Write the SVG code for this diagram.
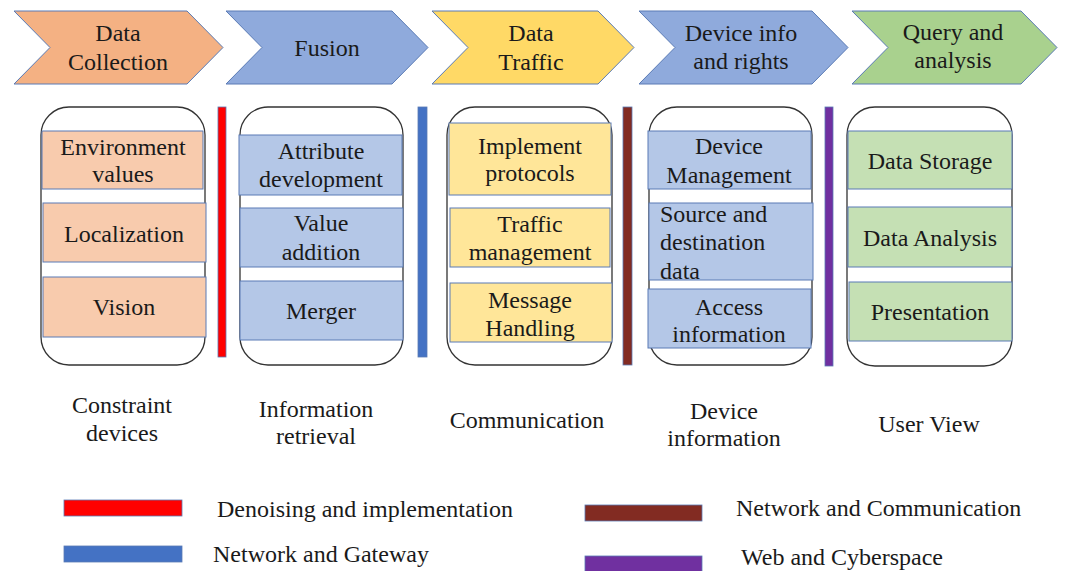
<svg xmlns="http://www.w3.org/2000/svg" width="1065" height="571" viewBox="0 0 1065 571">
  <style>
    text { font-family: "Liberation Serif", "Times New Roman", serif; font-size: 24px; fill: #1a1a1a; }
    .c { text-anchor: middle; }
    .chev { stroke: #5a7bb5; stroke-width: 1; }
    .outer { fill: #ffffff; stroke: #333333; stroke-width: 1.3; }
    .box { stroke: #5a7bb5; stroke-width: 1; }
    .orange { fill: #f4b183; }
    .blue { fill: #8faadc; }
    .yellow { fill: #ffd966; }
    .green { fill: #a9d18e; }
    .lorange { fill: #f8cbad; }
    .lblue { fill: #b4c7e7; }
    .lyellow { fill: #ffe699; }
    .lgreen { fill: #c5e0b4; }
    .bar { stroke: #5a7bb5; stroke-width: 0.8; }
  </style>

  <!-- Stage chevrons -->
  <g id="stage-collection">
    <path class="chev orange" d="M14,11 L187,11 L223,47.5 L187,84 L14,84 L50,47.5 Z"/>
    <text class="c" x="118" y="41">Data</text>
    <text class="c" x="118" y="70">Collection</text>
  </g>
  <g id="stage-fusion">
    <path class="chev blue" d="M226,11 L392,11 L428,47.5 L392,84 L226,84 L262,47.5 Z"/>
    <text class="c" x="327" y="56">Fusion</text>
  </g>
  <g id="stage-traffic">
    <path class="chev yellow" d="M432,11 L598,11 L634,47.5 L598,84 L432,84 L468,47.5 Z"/>
    <text class="c" x="531" y="41">Data</text>
    <text class="c" x="531" y="70">Traffic</text>
  </g>
  <g id="stage-device">
    <path class="chev blue" d="M639,11 L812,11 L848,47.5 L812,84 L639,84 L675,47.5 Z"/>
    <text class="c" x="741" y="41">Device info</text>
    <text class="c" x="741" y="69">and rights</text>
  </g>
  <g id="stage-query">
    <path class="chev green" d="M852,11 L1021,11 L1057,47.5 L1021,84 L852,84 L888,47.5 Z"/>
    <text class="c" x="953" y="40">Query and</text>
    <text class="c" x="953" y="68">analysis</text>
  </g>

  <!-- Column 1: constraint devices -->
  <g id="col-constraint">
    <rect class="outer" x="41" y="107" width="164" height="258" rx="28" ry="28"/>
    <rect class="box lorange" x="42" y="131" width="161" height="58"/>
    <text class="c" x="123" y="155">Environment</text>
    <text class="c" x="123" y="182">values</text>
    <rect class="box lorange" x="43" y="203" width="163" height="59"/>
    <text class="c" x="124" y="242">Localization</text>
    <rect class="box lorange" x="43" y="277" width="163" height="60"/>
    <text class="c" x="124" y="315">Vision</text>
    <text class="c" x="122" y="413">Constraint</text>
    <text class="c" x="122" y="441">devices</text>
  </g>

  <!-- Column 2: information retrieval -->
  <g id="col-retrieval">
    <rect class="outer" x="240" y="107" width="163" height="258" rx="28" ry="28"/>
    <rect class="box lblue" x="239" y="135" width="163" height="60"/>
    <text class="c" x="321" y="159">Attribute</text>
    <text class="c" x="321" y="187">development</text>
    <rect class="box lblue" x="240" y="208" width="163" height="59"/>
    <text class="c" x="321" y="231">Value</text>
    <text class="c" x="321" y="260">addition</text>
    <rect class="box lblue" x="240" y="281" width="163" height="59"/>
    <text class="c" x="321" y="319">Merger</text>
    <text class="c" x="316" y="417">Information</text>
    <text class="c" x="316" y="444">retrieval</text>
  </g>

  <!-- Column 3: communication -->
  <g id="col-communication">
    <rect class="outer" x="447" y="107" width="165" height="258" rx="28" ry="28"/>
    <rect class="box lyellow" x="449" y="123" width="162" height="72"/>
    <text class="c" x="530" y="154">Implement</text>
    <text class="c" x="530" y="181">protocols</text>
    <rect class="box lyellow" x="450" y="208" width="160" height="59"/>
    <text class="c" x="530" y="232">Traffic</text>
    <text class="c" x="530" y="260">management</text>
    <rect class="box lyellow" x="450" y="283" width="162" height="59"/>
    <text class="c" x="530" y="308">Message</text>
    <text class="c" x="530" y="336">Handling</text>
    <text class="c" x="527" y="428">Communication</text>
  </g>

  <!-- Column 4: device information -->
  <g id="col-device">
    <rect class="outer" x="649" y="107" width="163" height="258" rx="28" ry="28"/>
    <rect class="box lblue" x="648" y="131" width="163" height="58"/>
    <text class="c" x="729" y="154">Device</text>
    <text class="c" x="729" y="183">Management</text>
    <rect class="box lblue" x="649" y="203" width="164" height="77"/>
    <text x="660" y="222">Source and</text>
    <text x="660" y="250">destination</text>
    <text x="660" y="279">data</text>
    <rect class="box lblue" x="648" y="289" width="163" height="59"/>
    <text class="c" x="729" y="315">Access</text>
    <text class="c" x="729" y="342">information</text>
    <text class="c" x="724" y="419">Device</text>
    <text class="c" x="724" y="446">information</text>
  </g>

  <!-- Column 5: user view -->
  <g id="col-user">
    <rect class="outer" x="847" y="107" width="165" height="259" rx="28" ry="28"/>
    <rect class="box lgreen" x="848" y="131" width="164" height="58"/>
    <text class="c" x="930" y="169">Data Storage</text>
    <rect class="box lgreen" x="848" y="207" width="164" height="60"/>
    <text class="c" x="930" y="246">Data Analysis</text>
    <rect class="box lgreen" x="849" y="282" width="163" height="59"/>
    <text class="c" x="930" y="320">Presentation</text>
    <text class="c" x="929" y="432">User View</text>
  </g>

  <!-- Layer separators between columns -->
  <g id="separators">
    <rect class="bar" x="218" y="107" width="8" height="250" fill="#ff0000"/>
    <rect class="bar" x="418" y="107" width="9" height="250" fill="#4472c4"/>
    <rect class="bar" x="623" y="107" width="9" height="258" fill="#822b22"/>
    <rect class="bar" x="825" y="107" width="8" height="259" fill="#7030a0"/>
  </g>

  <!-- Legend -->
  <g id="legend">
    <rect class="bar" x="64" y="500" width="118" height="16" fill="#ff0000"/>
    <text x="217" y="517">Denoising and implementation</text>
    <rect class="bar" x="64" y="546" width="118" height="16" fill="#4472c4"/>
    <text x="213" y="562">Network and Gateway</text>
    <rect class="bar" x="585" y="505" width="117" height="16" fill="#822b22"/>
    <text x="736" y="516">Network and Communication</text>
    <rect class="bar" x="585" y="556" width="117" height="16" fill="#7030a0"/>
    <text x="741" y="565">Web and Cyberspace</text>
  </g>
</svg>
